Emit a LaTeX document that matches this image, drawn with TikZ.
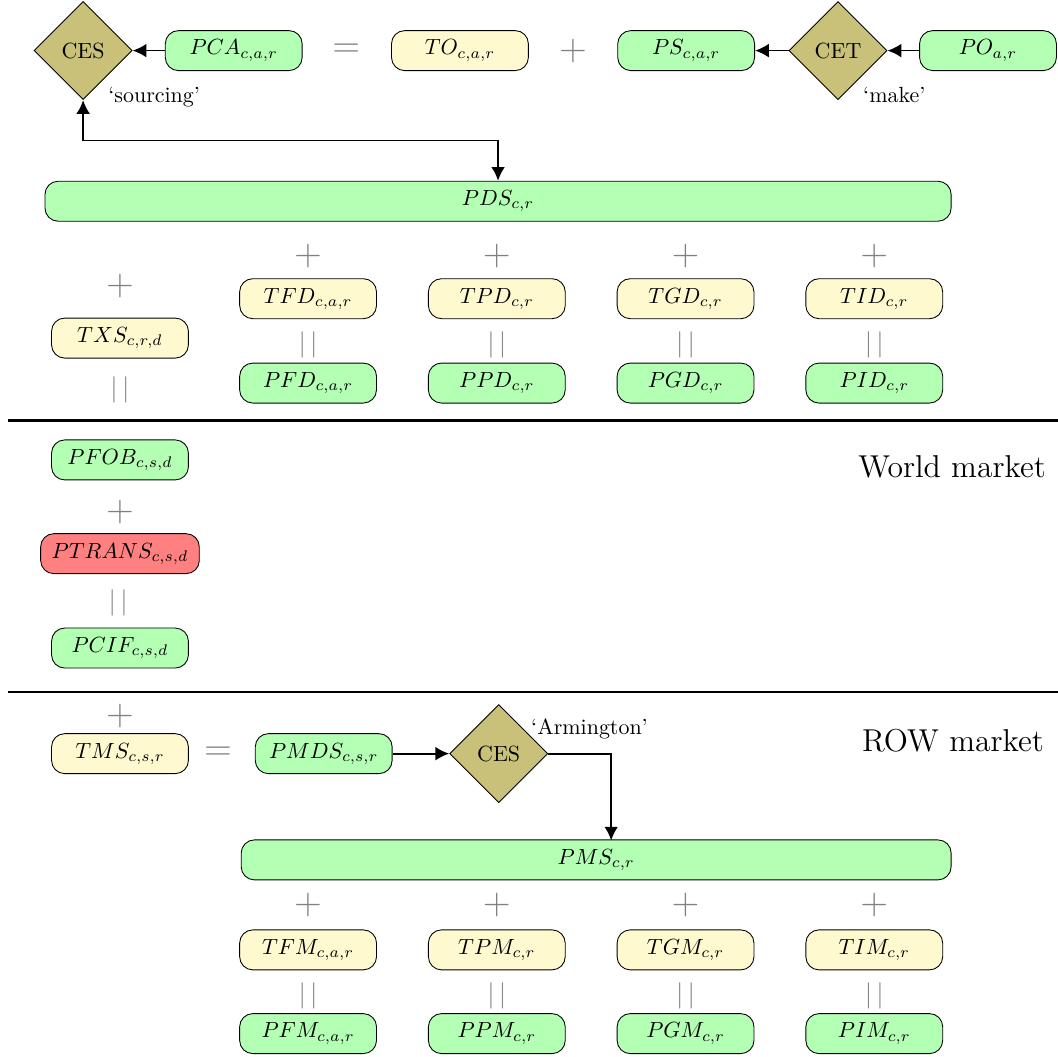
\documentclass[tikz,border=0pt]{standalone}
\usepackage{amsmath}
\usetikzlibrary{shapes.geometric,arrows.meta}
\definecolor{pgreen}{RGB}{179,255,179}
\definecolor{tyellow}{RGB}{255,249,208}
\definecolor{cred}{RGB}{255,128,128}
\definecolor{nestc}{RGB}{201,193,122}

\begin{document}
\begin{tikzpicture}[
  box/.style={draw,rounded corners=6pt,minimum width=2.19cm,minimum height=0.64cm,inner xsep=5pt},
  pbox/.style={box,fill=pgreen},
  tbox/.style={box,fill=tyellow},
  nest/.style={diamond,draw,fill=nestc,minimum size=1.57cm,inner sep=0pt},
  op/.style={text=gray,font=\LARGE},
  eqv/.style={text=gray,font=\large},
  arr/.style={thick,-{Latex[length=2.2mm,width=2.2mm]}}]
\useasboundingbox (0,0) rectangle (16.93,16.91);

% domestic market
\node[nest] (sourcing) at (1.33,16.10) {CES};
\node[pbox] (pca) at (3.74,16.10) {$PCA_{c,a,r}$};
\node[op] (eqtop) at (5.54,16.10) {$=$};
\node[tbox] (to) at (7.36,16.10) {$TO_{c,a,r}$};
\node[op] (pltop) at (9.17,16.10) {$+$};
\node[pbox] (ps) at (10.98,16.10) {$PS_{c,a,r}$};
\node[nest] (make) at (13.41,16.10) {CET};
\node[pbox] (po) at (15.81,16.10) {$PO_{a,r}$};
\node[anchor=north west,inner sep=0pt] (srclbl) at ([yshift=-0.19cm]sourcing.south east) {`sourcing'};
\node[anchor=north west,inner sep=0pt] (makelbl) at ([yshift=-0.19cm]make.south east) {`make'};

 \draw[arr] (pca) -- (sourcing);
 \draw[arr] (make) -- (ps);
 \draw[arr] (po) -- (make);

\node[pbox,minimum width=14.5cm] (pds) at (7.97,13.69) {$PDS_{c,r}$};
\coordinate (split) at (1.33,14.66);
 \draw[thick,{Latex[length=2.2mm,width=2.2mm]}-{Latex[length=2.2mm,width=2.2mm]}] (sourcing.south) -- (split) -| (pds.north);

\foreach \x/\n/\s in {4.93/F/{c,a,r},7.95/P/{c,r},10.97/G/{c,r},13.99/I/{c,r}}{
  \node[op] (plusd\n) at (\x,12.82) {$+$};
  \node[tbox] (t\n d) at (\x,12.13) {$T\n D_{\s}$};
  \node[eqv] (eqd\n) at (\x,11.39) {$|\,|$};
  \node[pbox] (p\n d) at (\x,10.78) {$P\n D_{\s}$};
}

\node[op] (plustxs) at (1.92,12.34) {$+$};
\node[tbox] (txs) at (1.92,11.50) {$TXS_{c,r,d}$};
\node[eqv] (eqtxs) at (1.92,10.67) {$|\,|$};

\draw[line width=1pt] (0.13,10.18) -- (16.93,10.18);

% world market
\node[anchor=east,font=\Large] (world) at (16.86,9.44) {World market};
\node[pbox] (pfob) at (1.92,9.55) {$PFOB_{c,s,d}$};
\node[op] (plusfob) at (1.92,8.72) {$+$};
\node[box,fill=cred] (ptrans) at (1.92,8.05) {$PTRANS_{c,s,d}$};
\node[eqv] (eqcif) at (1.89,7.26) {$|\,|$};
\node[pbox] (pcif) at (1.92,6.54) {$PCIF_{c,s,d}$};

\draw[line width=1pt] (0.13,5.84) -- (16.93,5.84);

% ROW market
\node[anchor=east,font=\Large] (row) at (16.83,5.06) {ROW market};
\node[op] (plustms) at (1.92,5.46) {$+$};
\node[tbox] (tms) at (1.92,4.85) {$TMS_{c,s,r}$};
\node[op] (eqtms) at (3.49,4.85) {$=$};
\node[pbox] (pmds) at (5.18,4.85) {$PMDS_{c,s,r}$};
\node[nest] (armington) at (7.98,4.85) {CES};
\node[anchor=west] (armlbl) at (armington.north east) {`Armington'};
\node[pbox,minimum width=11.36cm] (pms) at (9.54,3.15) {$PMS_{c,r}$};
\coordinate (pmsin) at (9.78,3.46);

 \draw[arr] (pmds) -- (armington);
 \draw[arr] (armington.east) -| (pmsin);

\foreach \x/\n/\s in {4.93/F/{c,a,r},7.95/P/{c,r},10.97/G/{c,r},13.99/I/{c,r}}{
  \node[op] (plusm\n) at (\x,2.43) {$+$};
  \node[tbox] (t\n m) at (\x,1.71) {$T\n M_{\s}$};
  \node[eqv] (eqm\n) at (\x,0.98) {$|\,|$};
  \node[pbox] (p\n m) at (\x,0.37) {$P\n M_{\s}$};
}

 \end{tikzpicture}
\end{document}
